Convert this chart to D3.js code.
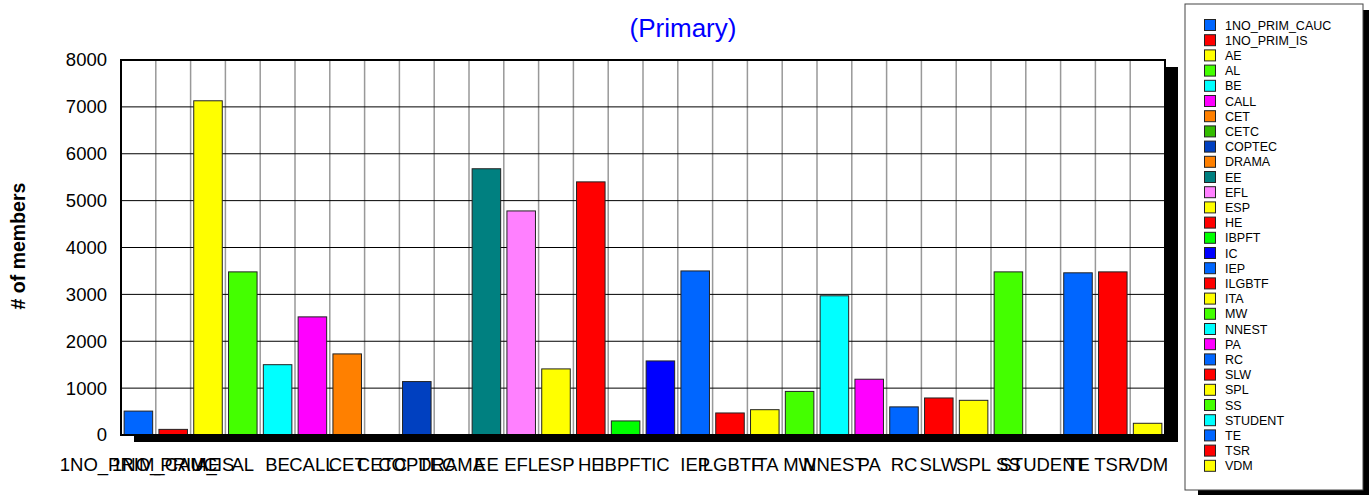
<!DOCTYPE html>
<html>
<head>
<meta charset="utf-8">
<script src="https://cdn.jsdelivr.net/npm/d3@7"></script>
<style>
	body { margin: 0; background: #fff; }
	svg text { font-family: "Liberation Sans", Arial, sans-serif; }
</style>
</head>
<body>
<div id="chart"></div>
<script>
var categories = ["1NO_PRIM_CAUC", "1NO_PRIM_IS", "AE", "AL", "BE", "CALL", "CET", "CETC", "COPTEC", "DRAMA",
	"EE", "EFL", "ESP", "HE", "IBPFT", "IC", "IEP", "ILGBTF", "ITA", "MW",
	"NNEST", "PA", "RC", "SLW", "SPL", "SS", "STUDENT", "TE", "TSR", "VDM"];
var members = [510, 120, 7130, 3480, 1500, 2520, 1730, 0, 1140, 0,
	5680, 4780, 1410, 5400, 300, 1580, 3500, 470, 540, 930,
	2970, 1190, 600, 790, 740, 3480, 0, 3460, 3480, 250];
var colors = ["#0066ff", "#ff0000", "#ffff00", "#44ff00", "#00ffff", "#ff00ff", "#ff8000", "#33bb00", "#0040c0", "#ff8000",
	"#008080", "#ff80ff", "#ffff00", "#ff0000", "#00ff00", "#0000ff", "#0066ff", "#ff0000", "#ffff00", "#44ff00",
	"#00ffff", "#ff00ff", "#0066ff", "#ff0000", "#ffff00", "#44ff00", "#00ffff", "#0066ff", "#ff0000", "#ffff00"];
var yTicks = [0, 1000, 2000, 3000, 4000, 5000, 6000, 7000, 8000];

var W = 1369, H = 495;
var plot = {left: 121, top: 60, right: 1165, bottom: 435};

var svg = d3.select("#chart").append("svg")
	.attr("width", W)
	.attr("height", H);

var x = d3.scaleBand()
	.domain(categories)
	.range([plot.left, plot.right])
	.padding(0);
var y = d3.scaleLinear()
	.domain([0, 8000])
	.range([plot.bottom, plot.top]);

//sombra del area
svg.append("rect")
	.attr("x", plot.left + 13)
	.attr("y", plot.top + 7)
	.attr("width", plot.right - plot.left)
	.attr("height", plot.bottom - plot.top)
	.attr("fill", "#000");
svg.append("rect")
	.attr("x", plot.left)
	.attr("y", plot.top)
	.attr("width", plot.right - plot.left)
	.attr("height", plot.bottom - plot.top)
	.attr("fill", "#fff");

//rejilla vertical
svg.append("g")
	.selectAll("line")
	.data(categories.slice(1))
	.enter().append("line")
	.attr("x1", function(d) { return x(d); })
	.attr("x2", function(d) { return x(d); })
	.attr("y1", plot.top)
	.attr("y2", plot.bottom)
	.attr("stroke", "#999")
	.attr("stroke-width", 1.5);

//rejilla horizontal
svg.append("g")
	.selectAll("line")
	.data(yTicks.slice(1))
	.enter().append("line")
	.attr("x1", plot.left)
	.attr("x2", plot.right)
	.attr("y1", function(d) { return y(d); })
	.attr("y2", function(d) { return y(d); })
	.attr("stroke", "#000")
	.attr("stroke-width", 1);

//barras
var bw = x.bandwidth() * 0.82;
svg.append("g")
	.selectAll("rect")
	.data(categories)
	.enter().append("rect")
	.attr("x", function(d) { return x(d) + (x.bandwidth() - bw) / 2; })
	.attr("y", function(d, i) { return y(members[i]); })
	.attr("width", bw)
	.attr("height", function(d, i) { return plot.bottom - y(members[i]); })
	.attr("fill", function(d, i) { return colors[i]; })
	.attr("stroke", "#222")
	.attr("stroke-width", 1);

//marco
svg.append("rect")
	.attr("x", plot.left)
	.attr("y", plot.top)
	.attr("width", plot.right - plot.left)
	.attr("height", plot.bottom - plot.top)
	.attr("fill", "none")
	.attr("stroke", "#000")
	.attr("stroke-width", 2);

//ejes
var yAxis = svg.append("g")
	.attr("transform", "translate(" + plot.left + ",0)")
	.call(d3.axisLeft(y).tickValues(yTicks).tickFormat(d3.format("d")).tickSize(0).tickPadding(14));
yAxis.select(".domain").remove();
yAxis.selectAll("text")
	.attr("font-size", 18.5)
	.attr("fill", "#000");

var xAxis = svg.append("g")
	.attr("transform", "translate(0," + plot.bottom + ")")
	.call(d3.axisBottom(x).tickSize(0).tickPadding(23));
xAxis.select(".domain").remove();
xAxis.selectAll("text")
	.attr("font-size", 18.5)
	.attr("fill", "#000");

//titulos
svg.append("text")
	.attr("x", 683)
	.attr("y", 37)
	.attr("text-anchor", "middle")
	.attr("font-size", 26)
	.attr("fill", "#0000ff")
	.text("(Primary)");

svg.append("text")
	.attr("transform", "translate(25,246) rotate(-90)")
	.attr("text-anchor", "middle")
	.attr("font-size", 19.5)
	.attr("font-weight", "bold")
	.attr("fill", "#000")
	.text("# of members");

//leyenda
var leg = {x: 1185, y: 4, w: 178, h: 486};
svg.append("rect")
	.attr("x", leg.x + 13)
	.attr("y", leg.y + 6)
	.attr("width", leg.w)
	.attr("height", leg.h)
	.attr("fill", "#000");
svg.append("rect")
	.attr("x", leg.x)
	.attr("y", leg.y)
	.attr("width", leg.w)
	.attr("height", leg.h)
	.attr("fill", "#fff")
	.attr("stroke", "#444")
	.attr("stroke-width", 1);

var items = svg.append("g")
	.selectAll("g")
	.data(categories)
	.enter().append("g")
	.attr("transform", function(d, i) { return "translate(1204," + (25 + i * 15.2) + ")"; });
items.append("rect")
	.attr("x", 0.5)
	.attr("y", -5.5)
	.attr("width", 11)
	.attr("height", 11)
	.attr("fill", function(d, i) { return colors[i]; })
	.attr("stroke", "#222")
	.attr("stroke-width", 1);
items.append("text")
	.attr("x", 21)
	.attr("y", 4.5)
	.attr("font-size", 12.5)
	.attr("fill", "#000")
	.text(function(d) { return d; });
</script>
</body>
</html>
